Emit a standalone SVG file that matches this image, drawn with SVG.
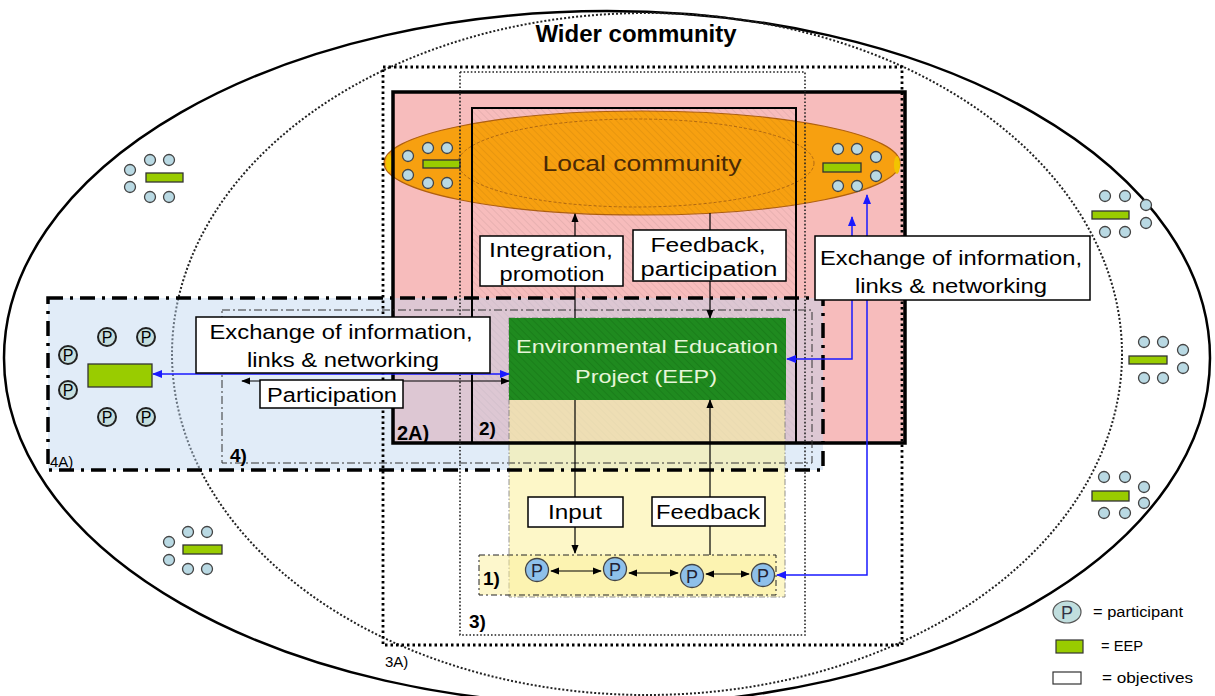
<svg xmlns="http://www.w3.org/2000/svg" width="1215" height="696" viewBox="0 0 1215 696">
<style>
.t{font-family:"Liberation Sans",Arial,sans-serif;fill:#000}
.b{font-weight:bold}
.obj{fill:#fff;stroke:#000;stroke-width:1.5}
.pc{fill:#b9d9e3;stroke:#444;stroke-width:1.3}
.eep{fill:#99cc00;stroke:#333;stroke-width:1.3}
.blu{stroke:#1a1aff;stroke-width:1.5;fill:none}
.blk{stroke:#000;stroke-width:1.2;fill:none}
.pp{fill:#c6dfdf;stroke:#222;stroke-width:2}
.pr{fill:#8ec0ea;stroke:#444;stroke-width:1.3}
</style>
<defs>
<pattern id="hatch" width="5" height="5" patternUnits="userSpaceOnUse" patternTransform="rotate(-45)"><line x1="0" y1="0" x2="0" y2="5" stroke="#000" stroke-opacity="0.12" stroke-width="1"/></pattern>
<pattern id="hatchg" width="5" height="5" patternUnits="userSpaceOnUse" patternTransform="rotate(-45)"><line x1="0" y1="0" x2="0" y2="5" stroke="#0a5a0a" stroke-opacity="0.5" stroke-width="1"/></pattern>
<marker id="ak" viewBox="0 0 10 10" refX="9" refY="5" markerWidth="9" markerHeight="9" markerUnits="userSpaceOnUse" orient="auto-start-reverse"><path d="M0,1 L10,5 L0,9 z" fill="#000"/></marker>
<marker id="ab" viewBox="0 0 10 10" refX="9" refY="5" markerWidth="10" markerHeight="10" markerUnits="userSpaceOnUse" orient="auto-start-reverse"><path d="M0,1 L10,5 L0,9 z" fill="#1a1aff"/></marker>
</defs>

<g id="wider-community">
<ellipse cx="607" cy="358" rx="603" ry="347" fill="#fff" stroke="#000" stroke-width="2.5"/>
<ellipse cx="647" cy="354" rx="475" ry="341" fill="none" stroke="#222" stroke-width="2" stroke-dasharray="2 2"/>
<text class="t b" x="636" y="42" font-size="24" text-anchor="middle">Wider community</text>
</g>

<g id="cluster-ul">
<rect class="eep" x="146" y="173" width="37" height="9"/>
<circle class="pc" cx="130" cy="170" r="5.5"/><circle class="pc" cx="130" cy="187" r="5.5"/>
<circle class="pc" cx="150" cy="160" r="5.5"/><circle class="pc" cx="169" cy="160" r="5.5"/>
<circle class="pc" cx="150" cy="197" r="5.5"/><circle class="pc" cx="169" cy="197" r="5.5"/>
</g>
<g id="cluster-ll">
<rect class="eep" x="183" y="545" width="39" height="9"/>
<circle class="pc" cx="169" cy="542" r="5.5"/><circle class="pc" cx="169" cy="560" r="5.5"/>
<circle class="pc" cx="188" cy="532" r="5.5"/><circle class="pc" cx="207" cy="532" r="5.5"/>
<circle class="pc" cx="188" cy="569" r="5.5"/><circle class="pc" cx="207" cy="569" r="5.5"/>
</g>
<g id="cluster-rt">
<rect class="eep" x="1092" y="211" width="37" height="8"/>
<circle class="pc" cx="1105" cy="196" r="5.5"/><circle class="pc" cx="1125" cy="196" r="5.5"/>
<circle class="pc" cx="1146" cy="205" r="5.5"/><circle class="pc" cx="1146" cy="223" r="5.5"/>
<circle class="pc" cx="1105" cy="232" r="5.5"/><circle class="pc" cx="1125" cy="232" r="5.5"/>
</g>
<g id="cluster-rm">
<rect class="eep" x="1129" y="356" width="38" height="8"/>
<circle class="pc" cx="1144" cy="342" r="5.5"/><circle class="pc" cx="1163" cy="342" r="5.5"/>
<circle class="pc" cx="1183" cy="350" r="5.5"/><circle class="pc" cx="1183" cy="368" r="5.5"/>
<circle class="pc" cx="1144" cy="378" r="5.5"/><circle class="pc" cx="1163" cy="378" r="5.5"/>
</g>
<g id="cluster-rb">
<rect class="eep" x="1092" y="491" width="37" height="10"/>
<circle class="pc" cx="1104" cy="477" r="5.5"/><circle class="pc" cx="1125" cy="477" r="5.5"/>
<circle class="pc" cx="1144" cy="487" r="5.5"/><circle class="pc" cx="1144" cy="503" r="5.5"/>
<circle class="pc" cx="1104" cy="513" r="5.5"/><circle class="pc" cx="1125" cy="513" r="5.5"/>
</g>

<g id="area-2A-fill">
<rect x="393" y="92" width="512" height="351" fill="#f7bcbc"/>
</g>

<g id="local-community">
<ellipse cx="642" cy="163" rx="258" ry="52" fill="#f7a010" stroke="#b06010" stroke-width="1.2"/>
<ellipse cx="389" cy="163" rx="3" ry="9" fill="#f2c400"/>
<ellipse cx="897" cy="165" rx="3" ry="9" fill="#f2c400"/>
<ellipse cx="636" cy="163" rx="178" ry="44" fill="none" stroke="#a05a10" stroke-width="0.8" stroke-dasharray="3 2"/>
<rect x="472" y="108" width="324" height="335" fill="url(#hatch)"/>
<text class="t" x="642" y="171" font-size="22" style="fill:#4a2a05" textLength="199" lengthAdjust="spacingAndGlyphs" text-anchor="middle">Local community</text>
<rect class="eep" x="423" y="160" width="37" height="8"/>
<circle class="pc" cx="408" cy="156" r="5.5"/><circle class="pc" cx="408" cy="175" r="5.5"/>
<circle class="pc" cx="428" cy="148" r="5.5"/><circle class="pc" cx="447" cy="148" r="5.5"/>
<circle class="pc" cx="428" cy="183" r="5.5"/><circle class="pc" cx="447" cy="183" r="5.5"/>
<rect class="eep" x="823" y="163" width="38" height="9"/>
<circle class="pc" cx="838" cy="149" r="5.5"/><circle class="pc" cx="857" cy="149" r="5.5"/>
<circle class="pc" cx="876" cy="157" r="5.5"/><circle class="pc" cx="876" cy="176" r="5.5"/>
<circle class="pc" cx="838" cy="186" r="5.5"/><circle class="pc" cx="857" cy="186" r="5.5"/>
</g>

<g id="area-4A">
<rect x="48" y="298" width="775" height="172" fill="#bcd4f0" fill-opacity="0.45"/>
</g>
<g id="area-1-fill">
<rect x="509" y="318" width="276" height="279" fill="#fbf09a" fill-opacity="0.55" stroke="#777" stroke-width="0.8" stroke-dasharray="6 2 1.5 2"/>
</g>

<g id="eep">
<rect x="509" y="318" width="277" height="82" fill="#1f8a1f"/>
<rect x="509" y="318" width="277" height="82" fill="url(#hatchg)"/>
<text class="t" x="647" y="353" font-size="19" style="fill:#e6f5d8" text-anchor="middle" textLength="262" lengthAdjust="spacingAndGlyphs">Environmental Education</text>
<text class="t" x="646" y="383" font-size="19" style="fill:#e6f5d8" text-anchor="middle" textLength="142" lengthAdjust="spacingAndGlyphs">Project (EEP)</text>
</g>

<g id="box-2A">
<rect x="393" y="92" width="512" height="351" fill="none" stroke="#000" stroke-width="3.5"/>
<text class="t b" x="397" y="440" font-size="20">2A)</text>
</g>
<g id="box-2">
<rect x="472" y="108" width="324" height="335" fill="none" stroke="#000" stroke-width="2"/>
<text class="t b" x="479" y="435" font-size="19">2)</text>
</g>
<g id="box-3A">
<rect x="383" y="67" width="519" height="578" fill="none" stroke="#000" stroke-width="2.8" stroke-dasharray="2.5 3"/>
<text class="t" x="385" y="667" font-size="15">3A)</text>
</g>
<g id="box-3">
<rect x="460" y="72" width="345" height="563" fill="none" stroke="#222" stroke-width="1.6" stroke-dasharray="1.6 2"/>
<text class="t b" x="469" y="628" font-size="19">3)</text>
</g>
<g id="box-4A">
<rect x="48" y="298" width="775" height="172" fill="none" stroke="#000" stroke-width="3.5" stroke-dasharray="15 7 3 7"/>
<text class="t" x="50" y="467" font-size="15">4A)</text>
</g>
<g id="box-4">
<rect x="222" y="310" width="590" height="153" fill="none" stroke="#333" stroke-width="1" stroke-dasharray="8 3 2 3"/>
<text class="t b" x="230" y="462" font-size="19">4)</text>
</g>
<g id="box-1">
<rect x="479" y="555" width="297" height="40" fill="#fbf09a" fill-opacity="0.5" stroke="#222" stroke-width="1" stroke-dasharray="6 3 2 3"/>
<text class="t b" x="483" y="585" font-size="19">1)</text>
</g>

<g id="connectors">
<line class="blk" x1="575" y1="318" x2="575" y2="214" marker-end="url(#ak)"/>
<line class="blk" x1="710" y1="213" x2="710" y2="318" marker-end="url(#ak)"/>
<line class="blk" x1="575" y1="400" x2="575" y2="553" marker-end="url(#ak)"/>
<line class="blk" x1="710" y1="555" x2="710" y2="400" marker-end="url(#ak)"/>
<line class="blu" x1="153" y1="374" x2="509" y2="374" marker-start="url(#ab)" marker-end="url(#ab)"/>
<line class="blk" x1="242" y1="381" x2="509" y2="381" marker-start="url(#ak)" marker-end="url(#ak)"/>
<path class="blu" d="M787,359 H852 V217" marker-start="url(#ab)" marker-end="url(#ab)"/>
<path class="blu" d="M777,575 H867 V195" marker-start="url(#ab)" marker-end="url(#ab)"/>
<line class="blk" x1="551" y1="571" x2="601" y2="571" stroke-width="1.6" marker-start="url(#ak)" marker-end="url(#ak)"/>
<line class="blk" x1="629" y1="573" x2="678" y2="573" stroke-width="1.6" marker-start="url(#ak)" marker-end="url(#ak)"/>
<line class="blk" x1="706" y1="574" x2="749" y2="574" stroke-width="1.6" marker-start="url(#ak)" marker-end="url(#ak)"/>
</g>

<g id="obj-integration">
<rect class="obj" x="480" y="236" width="143" height="50"/>
<text class="t" x="551" y="257" font-size="20" text-anchor="middle" textLength="124" lengthAdjust="spacingAndGlyphs">Integration,</text>
<text class="t" x="552" y="281" font-size="20" text-anchor="middle" textLength="105" lengthAdjust="spacingAndGlyphs">promotion</text>
</g>
<g id="obj-feedback-participation">
<rect class="obj" x="633" y="230" width="153" height="51"/>
<text class="t" x="708" y="252" font-size="20" text-anchor="middle" textLength="115" lengthAdjust="spacingAndGlyphs">Feedback,</text>
<text class="t" x="709" y="276" font-size="20" text-anchor="middle" textLength="137" lengthAdjust="spacingAndGlyphs">participation</text>
</g>
<g id="obj-exchange-left">
<rect class="obj" x="196" y="317" width="294" height="56"/>
<text class="t" x="341" y="339" font-size="21" text-anchor="middle" textLength="263" lengthAdjust="spacingAndGlyphs">Exchange of information,</text>
<text class="t" x="343" y="367" font-size="21" text-anchor="middle" textLength="192" lengthAdjust="spacingAndGlyphs">links &amp; networking</text>
</g>
<g id="obj-participation">
<rect class="obj" x="260" y="380" width="143" height="28"/>
<text class="t" x="332" y="402" font-size="20" text-anchor="middle" textLength="130" lengthAdjust="spacingAndGlyphs">Participation</text>
</g>
<g id="obj-exchange-right">
<rect class="obj" x="815" y="236" width="275" height="64"/>
<text class="t" x="951" y="265" font-size="21" text-anchor="middle" textLength="262" lengthAdjust="spacingAndGlyphs">Exchange of information,</text>
<text class="t" x="951" y="293" font-size="21" text-anchor="middle" textLength="192" lengthAdjust="spacingAndGlyphs">links &amp; networking</text>
</g>
<g id="obj-input">
<rect class="obj" x="528" y="497" width="95" height="30"/>
<text class="t" x="575" y="519" font-size="20" text-anchor="middle" textLength="54" lengthAdjust="spacingAndGlyphs">Input</text>
</g>
<g id="obj-feedback">
<rect class="obj" x="652" y="497" width="113" height="29"/>
<text class="t" x="708" y="519" font-size="20" text-anchor="middle" textLength="104" lengthAdjust="spacingAndGlyphs">Feedback</text>
</g>

<g id="eep-4A">
<rect class="eep" x="88" y="364" width="64" height="23"/>
<circle class="pp" cx="68" cy="355" r="9"/><text class="t" x="68" y="361" font-size="16" text-anchor="middle">P</text>
<circle class="pp" cx="107" cy="337" r="9"/><text class="t" x="107" y="343" font-size="16" text-anchor="middle">P</text>
<circle class="pp" cx="146" cy="337" r="9"/><text class="t" x="146" y="343" font-size="16" text-anchor="middle">P</text>
<circle class="pp" cx="68" cy="390" r="9"/><text class="t" x="68" y="396" font-size="16" text-anchor="middle">P</text>
<circle class="pp" cx="107" cy="417" r="9"/><text class="t" x="107" y="423" font-size="16" text-anchor="middle">P</text>
<circle class="pp" cx="146" cy="417" r="9"/><text class="t" x="146" y="423" font-size="16" text-anchor="middle">P</text>
</g>

<g id="participants-1">
<circle class="pr" cx="537" cy="570" r="11.5"/><text class="t" x="537" y="577" font-size="18" text-anchor="middle" style="fill:#223">P</text>
<circle class="pr" cx="615" cy="569" r="11.5"/><text class="t" x="615" y="576" font-size="18" text-anchor="middle" style="fill:#223">P</text>
<circle class="pr" cx="692" cy="576" r="11.5"/><text class="t" x="692" y="583" font-size="18" text-anchor="middle" style="fill:#223">P</text>
<circle class="pr" cx="763" cy="575" r="11.5"/><text class="t" x="763" y="582" font-size="18" text-anchor="middle" style="fill:#223">P</text>
</g>

<g id="legend">
<ellipse cx="1067" cy="612" rx="14" ry="11" fill="#c0dede" stroke="#555" stroke-width="1.2"/>
<text class="t" x="1067" y="619" font-size="18" text-anchor="middle" style="fill:#334">P</text>
<text class="t" x="1093" y="617" font-size="14" textLength="90" lengthAdjust="spacingAndGlyphs">= participant</text>
<rect x="1056" y="640" width="27" height="13" fill="#99cc00" stroke="#333" stroke-width="1.2"/>
<text class="t" x="1101" y="651" font-size="14" textLength="42" lengthAdjust="spacingAndGlyphs">= EEP</text>
<rect x="1053" y="672" width="28" height="12" fill="#fff" stroke="#333" stroke-width="1.2"/>
<text class="t" x="1102" y="683" font-size="14" textLength="91" lengthAdjust="spacingAndGlyphs">= objectives</text>
</g>
</svg>
